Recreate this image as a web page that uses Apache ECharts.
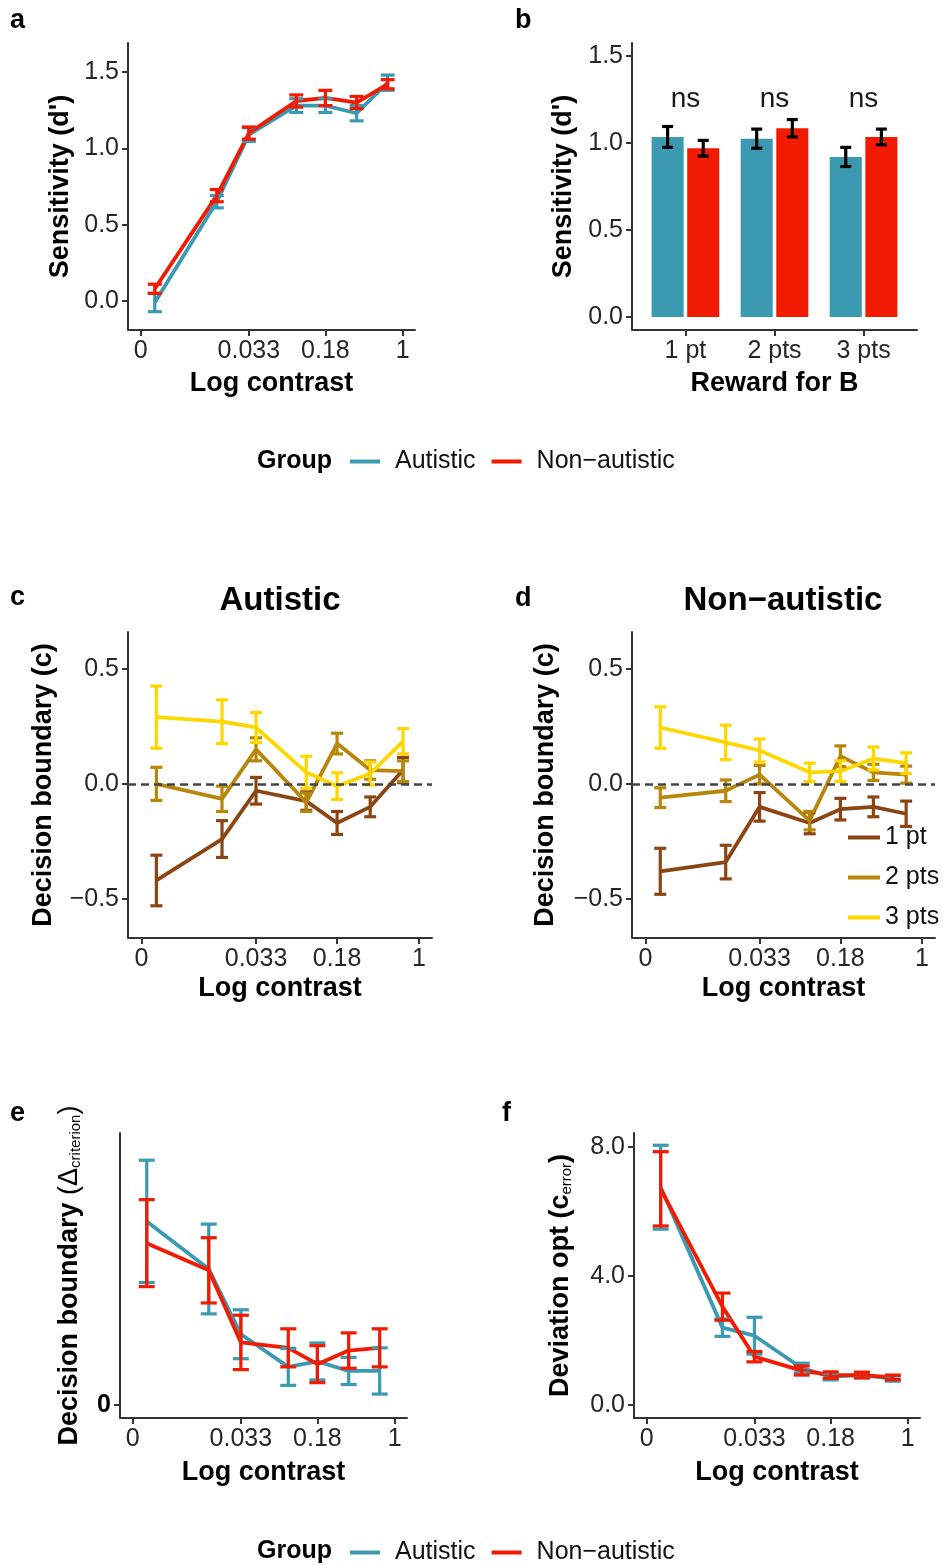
<!DOCTYPE html>
<html>
<head>
<meta charset="utf-8">
<script src="https://cdn.jsdelivr.net/npm/echarts@6/dist/echarts.min.js"></script>
<style>
html, body { margin: 0; padding: 0; background: #fff; }
#chart { width: 943px; height: 1565px; }
</style>
</head>
<body>
<div id="chart"></div>
<script>
// contrast levels (x, plotted on log scale) and the x tick labels
const contrastLevels = [0.0041, 0.0162, 0.033, 0.0944, 0.18, 0.36, 0.716];
const contrastTicks = [0.003, 0.033, 0.18, 1];
const contrastTickLabels = ['0', '0.033', '0.18', '1'];

const groupNames = ['Autistic', 'Non−autistic'];
const rewardLevels = ['1 pt', '2 pts', '3 pts'];

// a: sensitivity (d') by contrast
const sensAutMean = [-0.01, 0.65, 1.09, 1.28, 1.28, 1.23, 1.43];
const sensAutSe = [0.06, 0.04, 0.045, 0.045, 0.045, 0.05, 0.05];
const sensNonMean = [0.08, 0.69, 1.10, 1.31, 1.33, 1.30, 1.42];
const sensNonSe = [0.03, 0.04, 0.04, 0.04, 0.05, 0.04, 0.03];

// b: sensitivity by reward for B
const rewardAutMean = [1.035, 1.025, 0.92];
const rewardAutSe = [0.06, 0.055, 0.055];
const rewardNonMean = [0.97, 1.085, 1.035];
const rewardNonSe = [0.045, 0.05, 0.045];
const rewardSigLabels = ['ns', 'ns', 'ns'];

// c: decision boundary, autistic (1 pt, 2 pts, 3 pts)
const critAut1Mean = [-0.42, -0.24, -0.03, -0.075, -0.17, -0.10, 0.06];
const critAut1Se = [0.11, 0.08, 0.058, 0.04, 0.05, 0.043, 0.055];
const critAut2Mean = [0.0, -0.065, 0.15, -0.08, 0.175, 0.06, 0.055];
const critAut2Se = [0.072, 0.055, 0.05, 0.04, 0.045, 0.04, 0.045];
const critAut3Mean = [0.29, 0.27, 0.245, 0.05, -0.01, 0.045, 0.185];
const critAut3Se = [0.135, 0.095, 0.065, 0.07, 0.058, 0.05, 0.055];

// d: decision boundary, non-autistic
const critNon1Mean = [-0.38, -0.34, -0.10, -0.17, -0.11, -0.10, -0.13];
const critNon1Se = [0.10, 0.073, 0.062, 0.047, 0.047, 0.043, 0.055];
const critNon2Mean = [-0.06, -0.03, 0.04, -0.16, 0.12, 0.05, 0.04];
const critNon2Se = [0.043, 0.047, 0.04, 0.04, 0.045, 0.035, 0.037];
const critNon3Mean = [0.245, 0.18, 0.145, 0.05, 0.055, 0.11, 0.09];
const critNon3Se = [0.09, 0.075, 0.05, 0.04, 0.045, 0.05, 0.045];

// e: delta criterion (arbitrary units, only 0 is labelled)
const deltaAutMean = [0.675, 0.50, 0.26, 0.14, 0.16, 0.125, 0.125];
const deltaAutSe = [0.225, 0.165, 0.09, 0.068, 0.068, 0.05, 0.085];
const deltaNonMean = [0.595, 0.495, 0.23, 0.21, 0.15, 0.20, 0.21];
const deltaNonSe = [0.16, 0.12, 0.10, 0.07, 0.068, 0.065, 0.07];

// f: deviation from optimal criterion
const errAutMean = [6.75, 2.40, 2.15, 1.15, 0.88, 0.93, 0.82];
const errAutSe = [1.30, 0.27, 0.57, 0.15, 0.10, 0.08, 0.08];
const errNonMean = [6.70, 3.05, 1.50, 1.07, 0.93, 0.93, 0.86];
const errNonSe = [1.15, 0.42, 0.16, 0.14, 0.10, 0.09, 0.07];

const FONT = "'Liberation Sans', Arial, Helvetica, sans-serif";
const AUT = '#3B9AB2', NON = '#F21A00';
const REWARD_COLORS = ['#8B4513', '#B8860B', '#FFD700'];

const logX = contrastLevels.map(Math.log10);
const tickLogs = contrastTicks.map(Math.log10);

function tickLabel(v) {
    let best = 0;
    tickLogs.forEach((t, i) => {
        if (Math.abs(t - v) < Math.abs(tickLogs[best] - v)) best = i;
    });
    return contrastTickLabels[best];
}
function numLabel(v) {
    return v.toFixed(1).replace('-', '−');
}

var myChart = echarts.init(document.getElementById('chart'));

const grids = [
    { left: 128, top: 43, width: 287, height: 287 },    // a
    { left: 632, top: 43, width: 285, height: 287 },    // b
    { left: 128, top: 632, width: 304, height: 306 },   // c
    { left: 632, top: 632, width: 303, height: 306 },   // d
    { left: 120, top: 1133, width: 287, height: 285 },  // e
    { left: 634, top: 1133, width: 286, height: 285 }   // f
].map(g => Object.assign({ containLabel: false, outerBoundsMode: 'none' }, g));

function baseAxis(gridIndex) {
    return {
        gridIndex: gridIndex,
        type: 'value',
        axisLine: { show: true, onZero: false, lineStyle: { color: '#333', width: 2 } },
        axisTick: { show: true, length: 6, lineStyle: { color: '#333', width: 2 } },
        splitLine: { show: false },
        axisLabel: { fontFamily: FONT, fontSize: 25, color: '#262626', margin: 9 },
        nameLocation: 'middle',
        nameTextStyle: { fontFamily: FONT, fontSize: 27, fontWeight: 'bold', color: '#000' }
    };
}

function contrastAxis(gridIndex, nameGap) {
    let ax = baseAxis(gridIndex);
    ax.min = -2.645;
    ax.max = 0.118;
    ax.name = 'Log contrast';
    ax.nameGap = nameGap;
    ax.axisTick.customValues = tickLogs;
    ax.axisLabel.customValues = tickLogs;
    ax.axisLabel.formatter = tickLabel;
    return ax;
}

function valueAxis(gridIndex, min, max, ticks, name, nameGap) {
    let ax = baseAxis(gridIndex);
    ax.min = min;
    ax.max = max;
    ax.name = name;
    ax.nameGap = nameGap;
    ax.axisTick.customValues = ticks;
    ax.axisLabel.customValues = ticks;
    ax.axisLabel.formatter = numLabel;
    return ax;
}

// b: categorical reward axis drawn on a value scale (ggplot style spacing)
let rewardAxis = baseAxis(1);
rewardAxis.min = 0.4;
rewardAxis.max = 3.6;
rewardAxis.name = 'Reward for B';
rewardAxis.nameGap = 40;
rewardAxis.axisTick.customValues = [1, 2, 3];
rewardAxis.axisLabel.customValues = [1, 2, 3];
rewardAxis.axisLabel.formatter = v => rewardLevels[Math.round(v) - 1];

const xAxes = [
    contrastAxis(0, 40),
    rewardAxis,
    contrastAxis(2, 37),
    contrastAxis(3, 37),
    contrastAxis(4, 41),
    contrastAxis(5, 41)
];

let yE = valueAxis(4, -0.048, 1.0, [0], 'Decision boundary {n|(Δ}{s|criterion}{n|)}', 37);
yE.axisLabel.formatter = v => String(v);
yE.axisLabel.fontWeight = 'bold';
yE.axisLabel.color = '#000';
yE.nameTextStyle.rich = {
    n: { fontFamily: FONT, fontSize: 27, fontWeight: 'normal', color: '#000' },
    s: { fontFamily: FONT, fontSize: 15, fontWeight: 'normal', color: '#000', verticalAlign: 'bottom', lineHeight: 8 }
};

let yF = valueAxis(5, -0.4, 8.43, [0, 4, 8], 'Deviation opt (c{s|error})', 60);
yF.nameTextStyle.rich = {
    s: { fontFamily: FONT, fontSize: 15, fontWeight: 'normal', color: '#000', verticalAlign: 'bottom', lineHeight: 8 }
};

const yAxes = [
    valueAxis(0, -0.19, 1.69, [0, 0.5, 1, 1.5], "Sensitivity (d')", 54),
    valueAxis(1, -0.075, 1.575, [0, 0.5, 1, 1.5], "Sensitivity (d')", 55),
    valueAxis(2, -0.67, 0.66, [-0.5, 0, 0.5], 'Decision boundary (c)', 71),
    valueAxis(3, -0.67, 0.66, [-0.5, 0, 0.5], 'Decision boundary (c)', 73),
    yE,
    yF
];

const lines = [];
const bars = [];

function lineSeries(g, name, color, means, extra) {
    return Object.assign({
        type: 'line',
        name: name,
        xAxisIndex: g,
        yAxisIndex: g,
        color: color,
        data: logX.map((x, i) => [x, means[i]]),
        symbol: 'none',
        showSymbol: false,
        lineStyle: { width: 3.8, color: color },
        z: 2
    }, extra || {});
}

function errSeries(g, name, color, xs, means, ses, cap) {
    return {
        type: 'custom',
        name: name,
        xAxisIndex: g,
        yAxisIndex: g,
        color: color,
        itemStyle: { color: color },
        z: 3,
        clip: false,
        data: xs.map((x, i) => [x, means[i] - ses[i], means[i] + ses[i]]),
        encode: { x: 0, y: [1, 2] },
        renderItem: function (params, api) {
            let lo = api.coord([api.value(0), api.value(1)]);
            let hi = api.coord([api.value(0), api.value(2)]);
            let h = cap / 2;
            let style = { stroke: color, lineWidth: 3.2, fill: null };
            return {
                type: 'group',
                children: [
                    { type: 'line', shape: { x1: lo[0], y1: lo[1], x2: hi[0], y2: hi[1] }, style: style },
                    { type: 'line', shape: { x1: lo[0] - h, y1: lo[1], x2: lo[0] + h, y2: lo[1] }, style: style },
                    { type: 'line', shape: { x1: hi[0] - h, y1: hi[1], x2: hi[0] + h, y2: hi[1] }, style: style }
                ]
            };
        }
    };
}

// a
lines.push(lineSeries(0, groupNames[0], AUT, sensAutMean));
lines.push(lineSeries(0, groupNames[1], NON, sensNonMean));
bars.push(errSeries(0, groupNames[0], AUT, logX, sensAutMean, sensAutSe, 14));
bars.push(errSeries(0, groupNames[1], NON, logX, sensNonMean, sensNonSe, 14));

// b
const dodge = 0.2, barUnits = 0.36;
const autX = rewardLevels.map((_, i) => i + 1 - dodge);
const nonX = rewardLevels.map((_, i) => i + 1 + dodge);
function barSeries(name, color, xs, vals) {
    return {
        type: 'custom',
        name: name,
        xAxisIndex: 1,
        yAxisIndex: 1,
        color: color,
        itemStyle: { color: color },
        z: 1,
        clip: false,
        data: xs.map((x, i) => [x, vals[i]]),
        encode: { x: 0, y: 1 },
        renderItem: function (params, api) {
            let top = api.coord([api.value(0), api.value(1)]);
            let base = api.coord([api.value(0), 0]);
            let w = api.size([barUnits, 0])[0];
            return {
                type: 'rect',
                shape: { x: top[0] - w / 2, y: top[1], width: w, height: base[1] - top[1] },
                style: { fill: color }
            };
        }
    };
}
lines.push(barSeries(groupNames[0], AUT, autX, rewardAutMean));
lines.push(barSeries(groupNames[1], NON, nonX, rewardNonMean));
bars.push(errSeries(1, 'errB1', '#000', autX, rewardAutMean, rewardAutSe, 11));
bars.push(errSeries(1, 'errB2', '#000', nonX, rewardNonMean, rewardNonSe, 11));
const nsY = 1.25;
bars.push({
    type: 'custom',
    xAxisIndex: 1,
    yAxisIndex: 1,
    z: 4,
    clip: false,
    data: rewardLevels.map((_, i) => [i + 1, nsY]),
    encode: { x: 0, y: 1 },
    renderItem: function (params, api) {
        let p = api.coord([api.value(0), api.value(1)]);
        return {
            type: 'text',
            x: p[0],
            y: p[1],
            style: {
                text: rewardSigLabels[params.dataIndex],
                fontSize: 28, fontFamily: FONT, fill: '#1a1a1a',
                align: 'center', verticalAlign: 'middle'
            }
        };
    }
});

// c, d
const hline = {
    silent: true,
    symbol: ['none', 'none'],
    label: { show: false },
    lineStyle: { type: [8, 5], color: '#444', width: 2.5 },
    data: [{ yAxis: 0 }]
};
[[2, [critAut1Mean, critAut2Mean, critAut3Mean], [critAut1Se, critAut2Se, critAut3Se]],
 [3, [critNon1Mean, critNon2Mean, critNon3Mean], [critNon1Se, critNon2Se, critNon3Se]]].forEach(p => {
    let g = p[0];
    rewardLevels.forEach((name, k) => {
        lines.push(lineSeries(g, name, REWARD_COLORS[k], p[1][k], k === 0 ? { markLine: hline } : null));
        bars.push(errSeries(g, name, REWARD_COLORS[k], logX, p[1][k], p[2][k], 12));
    });
});

// e
lines.push(lineSeries(4, groupNames[0], AUT, deltaAutMean));
lines.push(lineSeries(4, groupNames[1], NON, deltaNonMean));
bars.push(errSeries(4, groupNames[0], AUT, logX, deltaAutMean, deltaAutSe, 16));
bars.push(errSeries(4, groupNames[1], NON, logX, deltaNonMean, deltaNonSe, 16));

// f
lines.push(lineSeries(5, groupNames[0], AUT, errAutMean));
lines.push(lineSeries(5, groupNames[1], NON, errNonMean));
bars.push(errSeries(5, groupNames[0], AUT, logX, errAutMean, errAutSe, 16));
bars.push(errSeries(5, groupNames[1], NON, logX, errNonMean, errNonSe, 16));

function legendOpt(extra) {
    return Object.assign({
        selectedMode: false,
        padding: 0,
        icon: 'rect',
        itemWidth: 30,
        itemHeight: 4,
        itemGap: 16,
        itemStyle: { borderWidth: 0 },
        textStyle: { fontFamily: FONT, fontSize: 25, color: '#111', padding: [0, 0, 0, 10] }
    }, extra);
}

function txt(text, x, y, size, weight, align) {
    return {
        type: 'text',
        x: x,
        y: y,
        style: {
            text: text, fontFamily: FONT, fontSize: size, fontWeight: weight, fill: '#000',
            align: align, textAlign: align, verticalAlign: 'middle', textVerticalAlign: 'middle'
        }
    };
}

let option = {
    backgroundColor: '#fff',
    animation: false,
    textStyle: { fontFamily: FONT },
    grid: grids,
    xAxis: xAxes,
    yAxis: yAxes,
    legend: [
        legendOpt({ data: groupNames, left: 350, top: 449 }),
        legendOpt({ data: groupNames, left: 350, top: 1540 }),
        legendOpt({
            data: rewardLevels, orient: 'vertical', left: 848, top: 825, itemWidth: 32, itemGap: 15,
            textStyle: { fontFamily: FONT, fontSize: 25, color: '#111' }
        })
    ],
    graphic: [
        txt('a', 10, 20.5, 27, 'bold', 'left'),
        txt('b', 515, 20.5, 27, 'bold', 'left'),
        txt('c', 10, 597.5, 27, 'bold', 'left'),
        txt('d', 515, 598.5, 27, 'bold', 'left'),
        txt('e', 10, 1113.5, 27, 'bold', 'left'),
        txt('f', 502, 1113.5, 27, 'bold', 'left'),
        txt('Autistic', 280, 600.5, 33, 'bold', 'center'),
        txt('Non−autistic', 783, 600.5, 33, 'bold', 'center'),
        txt('Group', 257, 461, 25, 'bold', 'left'),
        txt('Group', 257, 1551, 25, 'bold', 'left')
    ],
    series: lines.concat(bars)
};

myChart.setOption(option);
</script>
</body>
</html>
